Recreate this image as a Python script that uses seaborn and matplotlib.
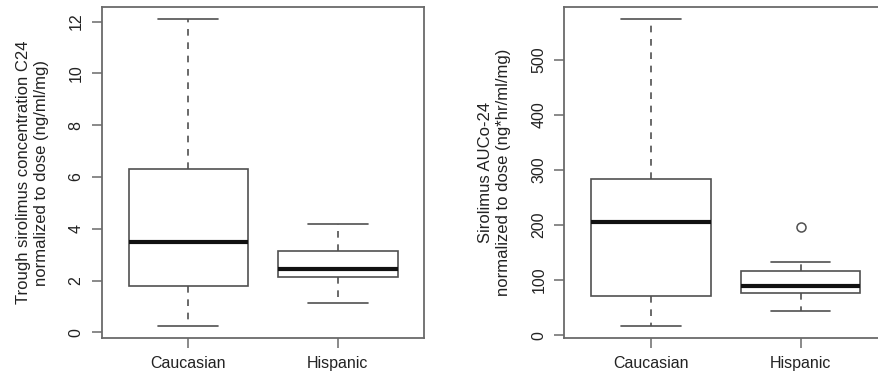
import matplotlib
matplotlib.use("Agg")
import matplotlib.pyplot as plt
import seaborn as sns
import pandas as pd

# ---- data ----
groups = ["Caucasian", "Hispanic"]
trough_caucasian = [0.25, 1.79, 3.47, 6.29, 12.09]
trough_hispanic = [1.14, 2.15, 2.43, 3.13, 4.19]
auc_caucasian = [16.9, 70.2, 206.0, 283.5, 573.0]
auc_hispanic = [43.5, 76.2, 76.2, 89.5, 89.5, 116.0, 116.0, 131.9, 196.0]

trough_ticks = [0, 2, 4, 6, 8, 10, 12]
auc_ticks = [0, 100, 200, 300, 400, 500]
trough_label = "Trough sirolimus concentration C24\nnormalized to dose (ng/ml/mg)"
auc_label = "Sirolimus AUCo-24\nnormalized to dose (ng*hr/ml/mg)"

sns.set_theme(style="white")
plt.rcParams["font.family"] = ["Liberation Sans", "DejaVu Sans"]
plt.rcParams["font.size"] = 11.5

df_trough = pd.DataFrame({
    "group": [groups[0]] * len(trough_caucasian) + [groups[1]] * len(trough_hispanic),
    "value": trough_caucasian + trough_hispanic,
})
df_auc = pd.DataFrame({
    "group": [groups[0]] * len(auc_caucasian) + [groups[1]] * len(auc_hispanic),
    "value": auc_caucasian + auc_hispanic,
})

fig = plt.figure(figsize=(8.79, 3.77), dpi=100)
ax1 = fig.add_axes([0.1157, 0.1034, 0.3672, 0.878])
ax2 = fig.add_axes([0.6422, 0.1034, 0.3672, 0.878])

edge = "#505050"
frame = "#6a6a6a"

def draw(ax, df, ticks, ylim, label, pad):
    sns.boxplot(
        data=df, x="group", y="value", order=groups, ax=ax,
        color="white", linecolor=edge, linewidth=1.2, width=0.8,
        whis=1.5,
        medianprops={"color": "#111111", "linewidth": 3.0},
        whiskerprops={"linestyle": (0, (4, 4)), "color": edge},
        capprops={"color": edge},
        flierprops={"marker": "o", "markerfacecolor": "none",
                    "markeredgecolor": edge, "markersize": 6.5,
                    "markeredgewidth": 1.1},
        boxprops={"facecolor": "white", "edgecolor": edge},
    )
    ax.set_xlim(-0.58, 1.58)
    ax.set_ylim(*ylim)
    ax.set_yticks(ticks)
    ax.set_yticklabels([str(t) for t in ticks], rotation=90, va="center")
    ax.set_xlabel("")
    ax.set_ylabel(label, multialignment="center", labelpad=pad, fontsize=12,
                  color="#222222", linespacing=1.25)
    for s in ax.spines.values():
        s.set_visible(True)
        s.set_color(frame)
        s.set_linewidth(1.3)
    ax.tick_params(axis="both", direction="out", length=7, width=1.1,
                   color=frame, labelsize=11.5, labelcolor="#222222",
                   left=True, bottom=True)
    ax.tick_params(axis="y", pad=6)
    ax.tick_params(axis="x", pad=6)
    ax.set_facecolor("white")

draw(ax1, df_trough, trough_ticks, (-0.22, 12.56), trough_label, 14)
draw(ax2, df_auc, auc_ticks, (-5.3, 595.3), auc_label, 15)

fig.savefig("out.png", dpi=100, facecolor="white")
